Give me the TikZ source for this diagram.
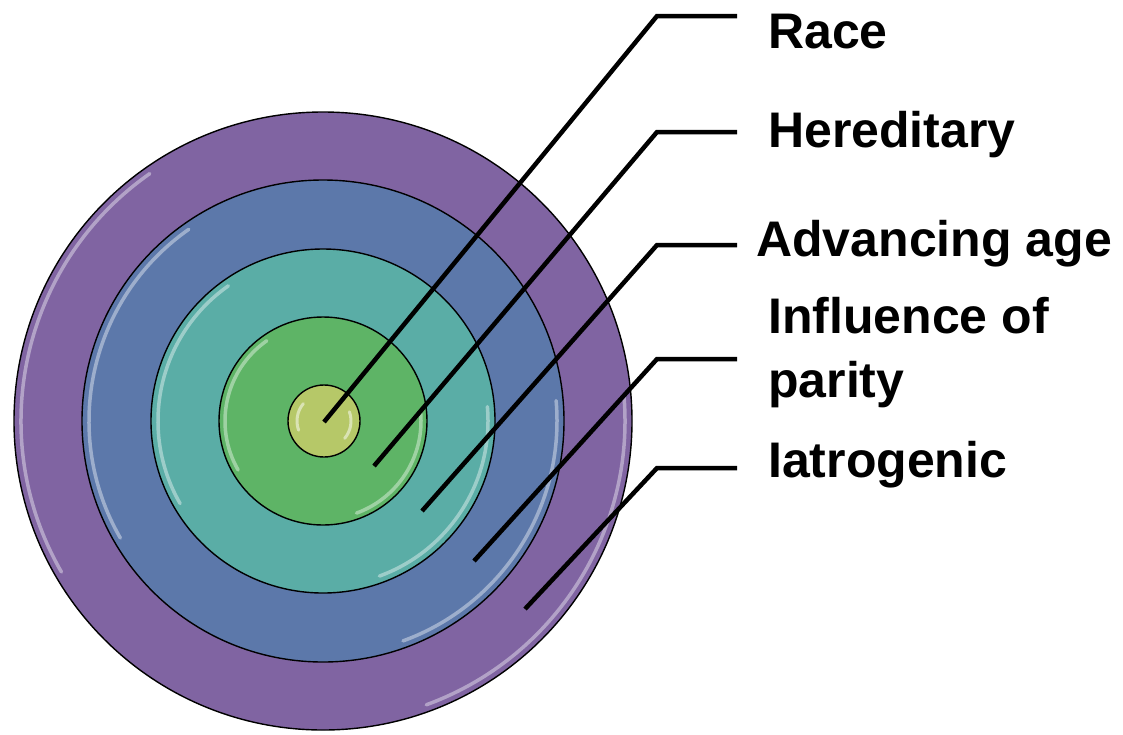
\documentclass[tikz,border=0pt]{standalone}
\usepackage{fontspec}
\setmainfont{Liberation Sans}
\definecolor{ringA}{RGB}{128,100,162}
\definecolor{ringB}{RGB}{92,120,170}
\definecolor{ringC}{RGB}{90,173,166}
\definecolor{ringD}{RGB}{94,180,102}
\definecolor{ringE}{RGB}{182,200,104}
\begin{document}
\begin{tikzpicture}[x=1pt,y=-1pt,
  ring/.style={circle,draw=black,line width=1.4pt,inner sep=0pt},
  gloss/.style={white,line width=3.5pt,opacity=0.4,line cap=round},
  leader/.style={draw=black,line width=4.5pt,line join=miter},
  lab/.style={anchor=base west,inner sep=0pt,font=\fontsize{50}{56}\selectfont\bfseries,align=left}]
\useasboundingbox (0,0) rectangle (1123,734);
% rings
\node[ring,fill=ringA,minimum size=618pt] (r1) at (323,421) {};
\node[ring,fill=ringB,minimum size=482pt] (r2) at (323,421) {};
\node[ring,fill=ringC,minimum size=344pt] (r3) at (323,421) {};
\node[ring,fill=ringD,minimum size=208pt] (r4) at (323,421) {};
\node[ring,fill=ringE,minimum size=72pt] (r5) at (324,421) {};
% glossy rims (y axis points down, so angles are mirrored)
\foreach \r/\c in {302/r1,234/r2,165/r3,98/r4}{
  \draw[gloss] (\c.center) ++(-125:\r) arc[start angle=-125,end angle=-210,radius=\r];
  \draw[gloss] (\c.center) ++(70:\r) arc[start angle=70,end angle=-5,radius=\r];
}
\draw[gloss,line width=3pt,opacity=0.5] (r5.center) ++(-140:27) arc[start angle=-140,end angle=-200,radius=27];
\draw[gloss,line width=3pt,opacity=0.5] (r5.center) ++(40:27) arc[start angle=40,end angle=-20,radius=27];
% leader end points and corners
\coordinate (e1) at (324,422);
\coordinate (e2) at (374,466);
\coordinate (e3) at (422,511);
\coordinate (e4) at (474,561);
\coordinate (e5) at (525,609);
\coordinate (k1) at (657,16);
\coordinate (k2) at (657,132);
\coordinate (k3) at (657,245);
\coordinate (k4) at (657,359);
\coordinate (k5) at (657,468);
\coordinate (h1) at (737,16);
\coordinate (h2) at (737,132);
\coordinate (h3) at (737,245);
\coordinate (h4) at (737,359);
\coordinate (h5) at (737,468);
\foreach \i in {1,...,5}{\draw[leader] (e\i) -- (k\i) -- (h\i);}
% labels
\node[lab] (t1) at (768,48) {Race};
\node[lab] (t2) at (768,147) {Hereditary};
\node[lab] (t3) at (756,256) {Advancing age};
\node[lab] (t4) at (768,333) {Influence of};
\node[lab] (t4b) at (768,397) {parity};
\node[lab] (t5) at (768,477) {Iatrogenic};
\end{tikzpicture}
\end{document}
